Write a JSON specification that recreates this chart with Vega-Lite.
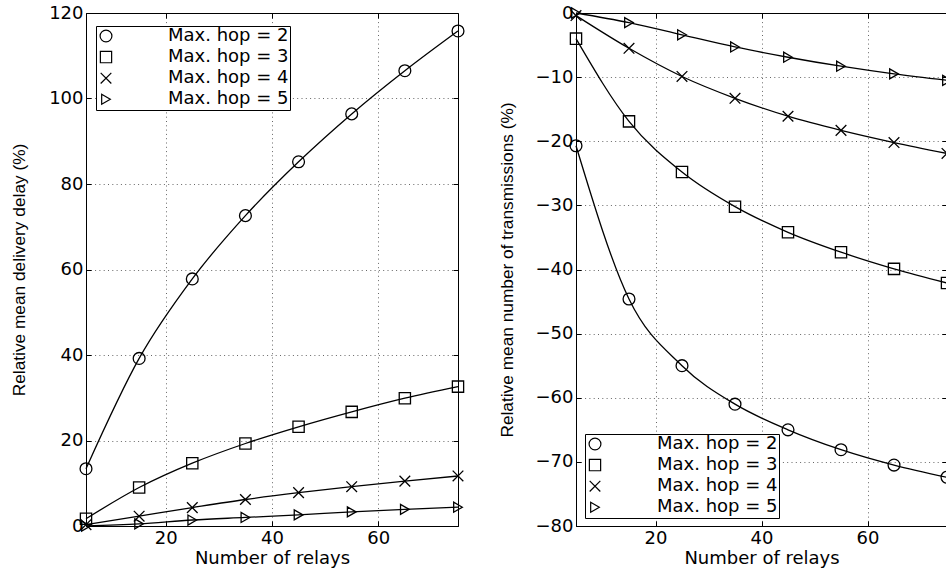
{
  "$schema": "https://vega.github.io/schema/vega-lite/v6.json",
  "padding": {"left": 10, "top": 3, "right": 0, "bottom": 0},
  "background": "white",
  "spacing": 118,
  "bounds": "flush",
  "resolve": {"scale": {"shape": "independent", "size": "independent"}, "legend": {"shape": "independent", "size": "independent"}},
  "config": {
    "font": "DejaVu Sans",
    "view": {"stroke": "black", "strokeWidth": 1},
    "axis": {
      "domainColor": "black",
      "tickColor": "black",
      "tickSize": -5,
      "labelColor": "black",
      "labelFont": "DejaVu Sans",
      "labelFontSize": 18,
      "labelPadding": 8,
      "labelFlush": false,
      "titleColor": "black",
      "titleFontWeight": "normal",
      "gridColor": "#000",
      "gridDash": [1, 3.3],
      "gridOpacity": 0.6,
      "gridWidth": 1
    },
    "legend": {
      "orient": "none",
      "strokeColor": "black",
      "fillColor": "white",
      "padding": 1,
      "rowPadding": 3.1,
      "labelOffset": 53,
      "labelFontSize": 18,
      "labelFont": "DejaVu Sans",
      "labelColor": "black",
      "symbolStrokeWidth": 1.2
    }
  },
  "datasets": {
    "delay": [
      {"relays": 5, "value": 13.4, "hop": "Max. hop = 2"},
      {"relays": 15, "value": 39.2, "hop": "Max. hop = 2"},
      {"relays": 25, "value": 57.8, "hop": "Max. hop = 2"},
      {"relays": 35, "value": 72.6, "hop": "Max. hop = 2"},
      {"relays": 45, "value": 85.2, "hop": "Max. hop = 2"},
      {"relays": 55, "value": 96.4, "hop": "Max. hop = 2"},
      {"relays": 65, "value": 106.5, "hop": "Max. hop = 2"},
      {"relays": 75, "value": 115.8, "hop": "Max. hop = 2"},
      {"relays": 5, "value": 1.7, "hop": "Max. hop = 3"},
      {"relays": 15, "value": 9.0, "hop": "Max. hop = 3"},
      {"relays": 25, "value": 14.7, "hop": "Max. hop = 3"},
      {"relays": 35, "value": 19.3, "hop": "Max. hop = 3"},
      {"relays": 45, "value": 23.2, "hop": "Max. hop = 3"},
      {"relays": 55, "value": 26.7, "hop": "Max. hop = 3"},
      {"relays": 65, "value": 29.9, "hop": "Max. hop = 3"},
      {"relays": 75, "value": 32.6, "hop": "Max. hop = 3"},
      {"relays": 5, "value": 0.3, "hop": "Max. hop = 4"},
      {"relays": 15, "value": 2.3, "hop": "Max. hop = 4"},
      {"relays": 25, "value": 4.3, "hop": "Max. hop = 4"},
      {"relays": 35, "value": 6.2, "hop": "Max. hop = 4"},
      {"relays": 45, "value": 7.8, "hop": "Max. hop = 4"},
      {"relays": 55, "value": 9.2, "hop": "Max. hop = 4"},
      {"relays": 65, "value": 10.5, "hop": "Max. hop = 4"},
      {"relays": 75, "value": 11.7, "hop": "Max. hop = 4"},
      {"relays": 5, "value": 0.0, "hop": "Max. hop = 5"},
      {"relays": 15, "value": 0.5, "hop": "Max. hop = 5"},
      {"relays": 25, "value": 1.4, "hop": "Max. hop = 5"},
      {"relays": 35, "value": 2.0, "hop": "Max. hop = 5"},
      {"relays": 45, "value": 2.6, "hop": "Max. hop = 5"},
      {"relays": 55, "value": 3.3, "hop": "Max. hop = 5"},
      {"relays": 65, "value": 3.9, "hop": "Max. hop = 5"},
      {"relays": 75, "value": 4.4, "hop": "Max. hop = 5"}
    ],
    "trans": [
      {"relays": 5, "value": -20.7, "hop": "Max. hop = 2"},
      {"relays": 15, "value": -44.6, "hop": "Max. hop = 2"},
      {"relays": 25, "value": -55.0, "hop": "Max. hop = 2"},
      {"relays": 35, "value": -61.0, "hop": "Max. hop = 2"},
      {"relays": 45, "value": -65.0, "hop": "Max. hop = 2"},
      {"relays": 55, "value": -68.1, "hop": "Max. hop = 2"},
      {"relays": 65, "value": -70.5, "hop": "Max. hop = 2"},
      {"relays": 75, "value": -72.4, "hop": "Max. hop = 2"},
      {"relays": 5, "value": -4.0, "hop": "Max. hop = 3"},
      {"relays": 15, "value": -16.9, "hop": "Max. hop = 3"},
      {"relays": 25, "value": -24.8, "hop": "Max. hop = 3"},
      {"relays": 35, "value": -30.2, "hop": "Max. hop = 3"},
      {"relays": 45, "value": -34.2, "hop": "Max. hop = 3"},
      {"relays": 55, "value": -37.3, "hop": "Max. hop = 3"},
      {"relays": 65, "value": -39.9, "hop": "Max. hop = 3"},
      {"relays": 75, "value": -42.1, "hop": "Max. hop = 3"},
      {"relays": 5, "value": -0.4, "hop": "Max. hop = 4"},
      {"relays": 15, "value": -5.5, "hop": "Max. hop = 4"},
      {"relays": 25, "value": -9.9, "hop": "Max. hop = 4"},
      {"relays": 35, "value": -13.3, "hop": "Max. hop = 4"},
      {"relays": 45, "value": -16.1, "hop": "Max. hop = 4"},
      {"relays": 55, "value": -18.3, "hop": "Max. hop = 4"},
      {"relays": 65, "value": -20.2, "hop": "Max. hop = 4"},
      {"relays": 75, "value": -21.9, "hop": "Max. hop = 4"},
      {"relays": 5, "value": 0.0, "hop": "Max. hop = 5"},
      {"relays": 15, "value": -1.5, "hop": "Max. hop = 5"},
      {"relays": 25, "value": -3.4, "hop": "Max. hop = 5"},
      {"relays": 35, "value": -5.3, "hop": "Max. hop = 5"},
      {"relays": 45, "value": -6.9, "hop": "Max. hop = 5"},
      {"relays": 55, "value": -8.3, "hop": "Max. hop = 5"},
      {"relays": 65, "value": -9.5, "hop": "Max. hop = 5"},
      {"relays": 75, "value": -10.5, "hop": "Max. hop = 5"}
    ]
  },
  "hconcat": [
    {
      "width": 372,
      "height": 513,
      "data": {"name": "delay"},
      "layer": [
        {
          "mark": {"type": "line", "color": "black", "strokeWidth": 1.3, "interpolate": "monotone"},
          "encoding": {
            "x": {"field": "relays", "type": "quantitative", "scale": {"domain": [5, 75], "nice": false},
                  "axis": {"orient": "bottom", "values": [20, 40, 60], "grid": true, "title": "Number of relays", "titleFont": "DejaVu Sans", "titleFontSize": 18, "titlePadding": 2}},
            "y": {"field": "value", "type": "quantitative", "scale": {"domain": [0, 120], "nice": false},
                  "axis": {"orient": "left", "values": [0, 20, 40, 60, 80, 100, 120], "grid": true, "title": "Relative mean delivery delay (%)", "titleFont": "Liberation Sans", "titleFontSize": 17.3, "titlePadding": 20}},
            "detail": {"field": "hop"}
          }
        },
        {
          "mark": {"type": "point", "filled": false, "color": "black", "strokeWidth": 1.3, "opacity": 1},
          "encoding": {
            "x": {"field": "relays", "type": "quantitative", "axis": {"orient": "top", "values": [20, 40, 60], "labels": false, "grid": false, "title": null, "domain": false}},
            "y": {"field": "value", "type": "quantitative", "axis": {"orient": "right", "values": [0, 20, 40, 60, 80, 100, 120], "labels": false, "grid": false, "title": null, "domain": false}},
            "shape": {"field": "hop", "type": "nominal",
                      "scale": {"domain": ["Max. hop = 2", "Max. hop = 3", "Max. hop = 4", "Max. hop = 5"], "range": ["circle", "square", "M-1,-1L1,1M-1,1L1,-1", "triangle-right"]},
                      "legend": {"title": null, "legendX": 10, "legendY": 13, "labelExpr": "datum.label + '\u00a0\u00a0\u00a0'"}},
            "size": {"field": "hop", "type": "nominal",
                     "scale": {"domain": ["Max. hop = 2", "Max. hop = 3", "Max. hop = 4", "Max. hop = 5"], "range": [140, 100, 90, 160]},
                     "legend": {"title": null, "legendX": 10, "legendY": 13, "labelExpr": "datum.label + '\u00a0\u00a0\u00a0'"}}
          }
        }
      ],
      "resolve": {"axis": {"x": "independent", "y": "independent"}}
    },
    {
      "width": 371,
      "height": 513,
      "data": {"name": "trans"},
      "layer": [
        {
          "mark": {"type": "line", "color": "black", "strokeWidth": 1.3, "interpolate": "monotone"},
          "encoding": {
            "x": {"field": "relays", "type": "quantitative", "scale": {"domain": [5, 75], "nice": false},
                  "axis": {"orient": "bottom", "values": [20, 40, 60], "grid": true, "title": "Number of relays", "titleFont": "DejaVu Sans", "titleFontSize": 18, "titlePadding": 2}},
            "y": {"field": "value", "type": "quantitative", "scale": {"domain": [-80, 0], "nice": false},
                  "axis": {"orient": "left", "values": [-80, -70, -60, -50, -40, -30, -20, -10, 0], "grid": true, "title": "Relative mean number of transmissions (%)", "titleFont": "Liberation Sans", "titleFontSize": 17.3, "titlePadding": 19}},
            "detail": {"field": "hop"}
          }
        },
        {
          "mark": {"type": "point", "filled": false, "color": "black", "strokeWidth": 1.3, "opacity": 1},
          "encoding": {
            "x": {"field": "relays", "type": "quantitative", "axis": {"orient": "top", "values": [20, 40, 60], "labels": false, "grid": false, "title": null, "domain": false}},
            "y": {"field": "value", "type": "quantitative", "axis": {"orient": "right", "values": [-80, -70, -60, -50, -40, -30, -20, -10, 0], "labels": false, "grid": false, "title": null, "domain": false}},
            "shape": {"field": "hop", "type": "nominal",
                      "scale": {"domain": ["Max. hop = 2", "Max. hop = 3", "Max. hop = 4", "Max. hop = 5"], "range": ["circle", "square", "M-1,-1L1,1M-1,1L1,-1", "triangle-right"]},
                      "legend": {"title": null, "legendX": 9, "legendY": 421, "labelExpr": "datum.label + '\u00a0\u00a0\u00a0'"}},
            "size": {"field": "hop", "type": "nominal",
                     "scale": {"domain": ["Max. hop = 2", "Max. hop = 3", "Max. hop = 4", "Max. hop = 5"], "range": [140, 100, 90, 160]},
                     "legend": {"title": null, "legendX": 9, "legendY": 421, "labelExpr": "datum.label + '\u00a0\u00a0\u00a0'"}}
          }
        }
      ],
      "resolve": {"axis": {"x": "independent", "y": "independent"}}
    }
  ]
}
